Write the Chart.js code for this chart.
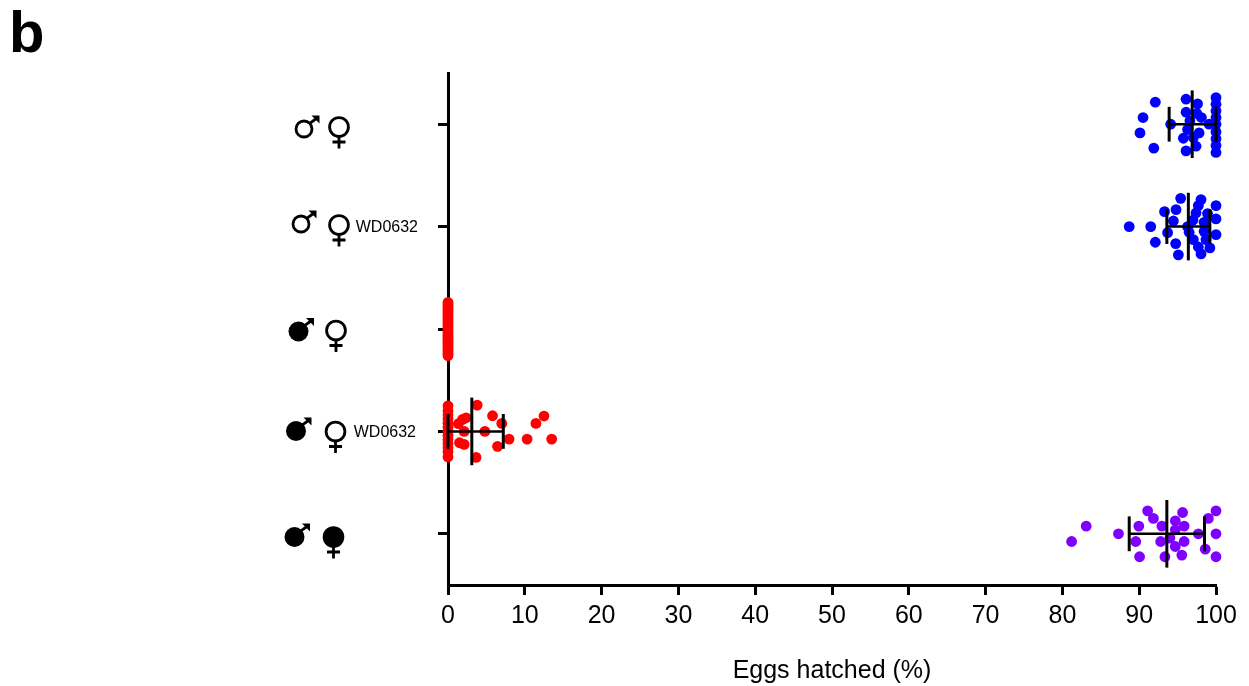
<!DOCTYPE html>
<html>
<head>
<meta charset="utf-8">
<script src="https://cdn.jsdelivr.net/npm/chart.js@4"></script>
<style>
  html, body { margin: 0; padding: 0; background: #fff; }
  #wrap { width: 1249px; height: 686px; position: relative; }
</style>
</head>
<body>
<div id="wrap"><canvas id="chart" width="1249" height="686"></canvas></div>
<script>
// rows, top to bottom = 5..1
const rows = [1, 2, 3, 4, 5];
const xTicks = [0, 10, 20, 30, 40, 50, 60, 70, 80, 90, 100];

// eggs hatched (%) and the swarm offset of each dot inside its row
const row5X = [92.1, 90.5, 90.1, 91.9, 96.1, 97.6, 96.1, 97.5, 98.1, 96.6, 94.1, 99.1, 96.3, 97.8, 95.75, 97.05, 97.4, 96.1, 100, 100, 100, 100, 100, 100, 100, 100, 100];
const row5Off = [.215, .065, -.085, -.234, .244, .198, .117, .104, .065, .033, 0, 0, -.052, -.085, -.137, -.13, -.215, -.26, .26, .195, .13, .065, 0, -.075, -.143, -.208, -.276];
const row4X = [88.7, 91.5, 92.1, 93.7, 93.3, 94.8, 94.45, 95.4, 94.75, 95.1, 98.05, 97.7, 97.4, 97, 96.3, 96.5, 97.05, 97.7, 98.05, 99.2, 98.7, 98.45, 98.45, 98.9, 100, 100, 100];
const row4Off = [0, 0, -.153, -.059, .146, .166, .055, .276, -.166, -.276, .264, .205, .133, .062, 0, -.055, -.127, -.199, -.267, -.208, -.127, -.046, .042, .127, .205, .075, -.078];
const row3X = [0, 0, 0, 0, 0, 0, 0, 0, 0, 0, 0, 0, 0, 0, 0, 0, 0, 0, 0, 0, 0, 0, 0, 0, 0, 0, 0];
const row3Off = [.26, .24, .22, .2, .18, .16, .14, .12, .1, .08, .06, .04, .02, 0, -.02, -.04, -.06, -.08, -.1, -.12, -.14, -.16, -.18, -.2, -.22, -.24, -.26];
const row2X = [3.8, 5.8, 7, 4.8, 7.95, 10.3, 13.5, 12.5, 11.45, 6.45, 3.65, 2.35, 1.9, 1.35, 2.1, 1.5, 2.1, 0, 0, 0, 0, 0, 0, 0, 0, 0, 0, 0, 0, 0];
const row2Off = [.257, .153, .078, 0, -.075, -.075, -.075, .15, .078, -.146, -.254, .133, .117, .075, 0, -.111, -.127, .25, .2, .16, .12, .08, .04, 0, -.04, -.08, -.12, -.16, -.2, -.25];
const row1X = [81.2, 83.1, 87.3, 89.55, 89.95, 91.1, 91.85, 90.05, 92.95, 92.8, 93.35, 94, 94.7, 94.7, 94.7, 95.85, 95.85, 95.65, 95.55, 97.7, 99, 98.6, 100, 100, 100];
const row1Off = [-.075, .075, 0, -.075, .075, .224, .15, -.224, .075, -.075, -.224, -.042, .127, .039, -.124, .075, -.075, .208, -.208, 0, .15, -.15, .224, 0, -.224];

// mean and sd for rows 5, 4, 2, 1
const barRows = [5, 4, 2, 1];
const barMean = [96.9, 96.4, 3.1, 93.6];
const barLow = [93.9, 93.6, 0, 88.7];
const barHigh = [100, 99.2, 7.2, 98.5];

const blue = '#0000ff', red = '#ff0000', purple = '#8000ff';

function swarm(row, xs, offs, color) {
    return {
        type: 'scatter',
        data: xs.map((x, i) => ({ x: x, y: row + offs[i] })),
        backgroundColor: color,
        borderWidth: 0,
        pointRadius: 5.4,
        pointHoverRadius: 5.4,
        clip: false,
        order: 2
    };
}

function segment(x1, y1, x2, y2, w) {
    return {
        type: 'line',
        data: [{ x: x1, y: y1 }, { x: x2, y: y2 }],
        borderColor: '#000',
        borderWidth: w,
        pointRadius: 0,
        borderCapStyle: 'butt',
        clip: false,
        order: 1
    };
}

const datasets = [
    swarm(5, row5X, row5Off, blue),
    swarm(4, row4X, row4Off, blue),
    swarm(3, row3X, row3Off, red),
    swarm(2, row2X, row2Off, red),
    swarm(1, row1X, row1Off, purple)
];
barRows.forEach((r, i) => {
    datasets.push(segment(barLow[i], r, barHigh[i], r, 2.5));
    datasets.push(segment(barMean[i], r - .33, barMean[i], r + .33, 3));
    datasets.push(segment(barLow[i], r - .17, barLow[i], r + .17, 3));
    datasets.push(segment(barHigh[i], r - .17, barHigh[i], r + .17, 3));
});

// sex symbols beside the rows
const symbols = [
    { mx: 304, my: 129, fx: 339, fy: 127, mFill: false, fFill: false },
    { mx: 301, my: 224, fx: 339, fy: 225, mFill: false, fFill: false },
    { mx: 298.5, my: 331.5, fx: 336, fy: 330.5, mFill: true, fFill: false },
    { mx: 296, my: 431, fx: 335.5, fy: 431.5, mFill: true, fFill: false },
    { mx: 294.5, my: 537, fx: 333.5, fy: 537, mFill: true, fFill: true }
];
const notes = [
    { text: 'WD0632', x: 418, y: 228 },
    { text: 'WD0632', x: 416, y: 433 }
];

function drawMale(ctx, x, y, filled) {
    const r = 8, a = Math.SQRT1_2;
    ctx.beginPath();
    ctx.arc(x, y, filled ? 10 : r, 0, Math.PI * 2);
    if (filled) ctx.fill(); else ctx.stroke();
    const ex = x + 15.5, ey = y - 13.5;
    ctx.beginPath();
    ctx.moveTo(x + r * a, y - r * a);
    ctx.lineTo(ex - 3, ey + 3);
    ctx.stroke();
    ctx.beginPath();
    ctx.moveTo(ex, ey);
    ctx.lineTo(ex - 8, ey);
    ctx.lineTo(ex, ey + 8);
    ctx.closePath();
    ctx.fill();
}

function drawFemale(ctx, x, y, filled) {
    const r = 9.4;
    ctx.beginPath();
    ctx.arc(x, y, r, 0, Math.PI * 2);
    if (filled) { ctx.fill(); }
    ctx.stroke();
    ctx.beginPath();
    ctx.moveTo(x, y + r);
    ctx.lineTo(x, y + 21.5);
    ctx.moveTo(x - 6.5, y + 15);
    ctx.lineTo(x + 6.5, y + 15);
    ctx.stroke();
}

const annotations = {
    id: 'annotations',
    afterDraw(chart) {
        const ctx = chart.ctx;
        ctx.save();
        ctx.fillStyle = '#000';
        ctx.strokeStyle = '#000';
        ctx.lineWidth = 2.8;
        symbols.forEach(s => {
            drawMale(ctx, s.mx, s.my, s.mFill);
            drawFemale(ctx, s.fx, s.fy, s.fFill);
        });
        ctx.font = '16px "Liberation Sans"';
        ctx.textAlign = 'right';
        ctx.textBaseline = 'middle';
        notes.forEach(n => ctx.fillText(n.text, n.x, n.y));
        ctx.font = 'bold 58px "Liberation Sans"';
        ctx.textAlign = 'left';
        ctx.textBaseline = 'alphabetic';
        ctx.fillText('b', 9, 52);
        ctx.restore();
    }
};

new Chart(document.getElementById('chart'), {
    data: { datasets: datasets },
    plugins: [annotations],
    options: {
        responsive: false,
        animation: false,
        events: [],
        layout: { padding: { top: 73, right: 33, left: 0, bottom: 0 } },
        plugins: { legend: { display: false }, tooltip: { enabled: false } },
        scales: {
            x: {
                type: 'linear',
                min: 0,
                max: 100,
                afterBuildTicks: s => { s.ticks = xTicks.map(v => ({ value: v })); },
                afterFit: s => { s.height = 101; },
                border: { color: '#000', width: 3 },
                grid: { drawOnChartArea: false, drawTicks: true, tickLength: 10, tickWidth: 3, tickColor: '#000' },
                ticks: {
                    color: '#000',
                    padding: 6,
                    maxRotation: 0,
                    autoSkip: false,
                    font: { family: '"Liberation Sans"', size: 25 }
                },
                title: {
                    display: true,
                    text: 'Eggs hatched (%)',
                    color: '#000',
                    padding: { top: 12, bottom: 0 },
                    font: { family: '"Liberation Sans"', size: 25 }
                }
            },
            y: {
                type: 'linear',
                min: 0.5,
                max: 5.5,
                afterBuildTicks: s => { s.ticks = rows.map(v => ({ value: v })); },
                afterFit: s => { s.width = 448; },
                border: { color: '#000', width: 3 },
                grid: { drawOnChartArea: false, drawTicks: true, tickLength: 10, tickWidth: 3, tickColor: '#000' },
                ticks: { display: false }
            }
        }
    }
});
</script>
</body>
</html>
